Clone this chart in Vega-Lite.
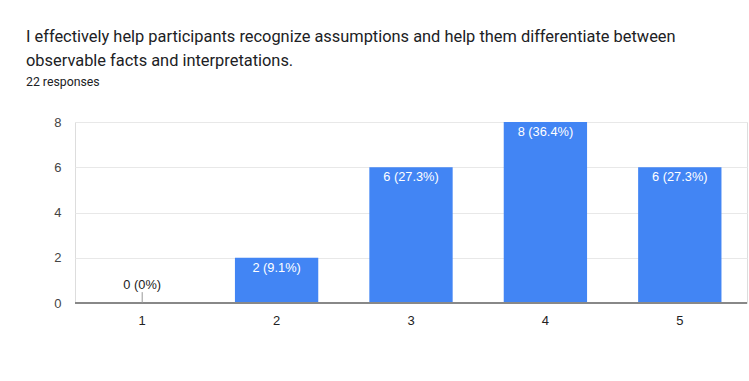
{
  "$schema": "https://vega.github.io/schema/vega-lite/v6.json",
  "autosize": "none",
  "width": 672,
  "height": 181,
  "padding": {"left": 75, "top": 122, "right": 2, "bottom": 78},
  "background": "#ffffff",
  "title": {
    "text": ["I effectively help participants recognize assumptions and help them differentiate between", "observable facts and interpretations."],
    "subtitle": "22 responses",
    "anchor": "start",
    "frame": "group",
    "dx": -49,
    "offset": 28,
    "font": "Roboto",
    "fontSize": 16.4,
    "fontWeight": "normal",
    "lineHeight": 24,
    "color": "#202124",
    "subtitleFont": "Roboto",
    "subtitleFontSize": 12.3,
    "subtitleColor": "#202124",
    "subtitlePadding": 6
  },
  "data": {
    "values": [
      {"rating": "1", "count": 0, "label": "0 (0%)"},
      {"rating": "2", "count": 2, "label": "2 (9.1%)"},
      {"rating": "3", "count": 6, "label": "6 (27.3%)"},
      {"rating": "4", "count": 8, "label": "8 (36.4%)"},
      {"rating": "5", "count": 6, "label": "6 (27.3%)"}
    ]
  },
  "encoding": {
    "x": {
      "field": "rating",
      "type": "nominal",
      "scale": {"paddingInner": 0.38, "paddingOuter": 0.19},
      "axis": {
        "title": null,
        "labelAngle": 0,
        "labelFont": "Liberation Sans",
        "labelFontSize": 13,
        "labelColor": "#222222",
        "labelPadding": 11,
        "ticks": false,
        "domain": false,
        "grid": false
      }
    }
  },
  "layer": [
    {
      "mark": {"type": "bar", "color": "#4285F4"},
      "encoding": {
        "y": {
          "field": "count",
          "type": "quantitative",
          "scale": {"domain": [0, 8]},
          "axis": {
            "title": null,
            "values": [0, 1, 2, 3, 4, 5, 6, 7, 8],
            "labelExpr": "datum.value % 2 == 0 ? datum.label : ''",
            "labelFont": "Liberation Sans",
            "labelFontSize": 13,
            "labelColor": "#444444",
            "labelPadding": 14,
            "ticks": false,
            "domain": false,
            "grid": true,
            "gridColor": {"condition": {"test": "datum.value % 2 == 0", "value": "#e8e8e8"}, "value": "#f4f4f4"}
          }
        }
      }
    },
    {
      "mark": {"type": "rule", "color": "#888888", "strokeWidth": 2},
      "encoding": {"y": {"datum": 0, "type": "quantitative"}, "x": {"value": 0}, "x2": {"value": 672}}
    },
    {
      "transform": [{"filter": "datum.count == 0"}],
      "mark": {"type": "rule", "color": "#999999", "strokeWidth": 1},
      "encoding": {"y": {"datum": 0, "type": "quantitative"}, "y2": {"datum": 0.48}}
    },
    {
      "transform": [{"filter": "datum.count > 0"}],
      "mark": {"type": "text", "color": "#ffffff", "baseline": "top", "dy": 4, "font": "Liberation Sans", "fontSize": 12.8},
      "encoding": {"y": {"field": "count", "type": "quantitative"}, "text": {"field": "label"}}
    },
    {
      "transform": [{"filter": "datum.count == 0"}],
      "mark": {"type": "text", "color": "#222222", "baseline": "alphabetic", "dy": -14, "font": "Liberation Sans", "fontSize": 12.8},
      "encoding": {"y": {"field": "count", "type": "quantitative"}, "text": {"field": "label"}}
    }
  ]
}
